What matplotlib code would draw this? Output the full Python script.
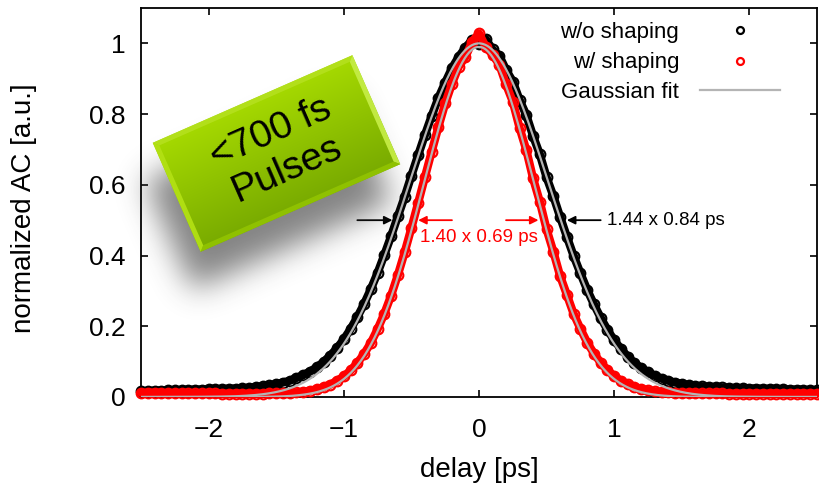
import numpy as np
import matplotlib
matplotlib.use("Agg")
import matplotlib.pyplot as plt
from matplotlib.path import Path
from matplotlib.patches import Polygon

plt.rcParams['font.family'] = ['Liberation Sans', 'DejaVu Sans']

# autocorrelation traces, 0.05 ps sampling
delay = np.round(np.arange(-2.5, 2.5001, 0.05), 2)

ac_without = [
    0.016, 0.017, 0.018, 0.018, 0.019, 0.019, 0.020, 0.020, 0.021, 0.021,
    0.022, 0.022, 0.023, 0.023, 0.024, 0.025, 0.026, 0.028, 0.030, 0.033,
    0.036, 0.041, 0.046, 0.054, 0.062, 0.072, 0.084, 0.099, 0.117, 0.138,
    0.163, 0.192, 0.226, 0.263, 0.305, 0.351, 0.402, 0.455, 0.511, 0.566,
    0.626, 0.684, 0.741, 0.795, 0.846, 0.889, 0.930, 0.962, 0.988, 1.010,
    0.998,
    1.012, 0.983, 0.965, 0.925, 0.892, 0.840, 0.797, 0.738, 0.686, 0.621,
    0.568, 0.509, 0.453, 0.399, 0.350, 0.303, 0.262, 0.224, 0.190, 0.160,
    0.136, 0.114, 0.096, 0.082, 0.070, 0.060, 0.052, 0.046, 0.041, 0.037,
    0.034, 0.032, 0.030, 0.029, 0.028, 0.027, 0.026, 0.025, 0.025, 0.024,
    0.024, 0.023, 0.023, 0.022, 0.022, 0.021, 0.021, 0.020, 0.020, 0.019,
]

ac_with = [
    0.012, 0.012, 0.012, 0.011, 0.011, 0.011, 0.011, 0.010, 0.010, 0.010,
    0.010, 0.010, 0.009, 0.009, 0.009, 0.009, 0.009, 0.009, 0.009, 0.010,
    0.010, 0.011, 0.012, 0.013, 0.015, 0.018, 0.022, 0.028, 0.035, 0.046,
    0.058, 0.075, 0.096, 0.122, 0.153, 0.192, 0.236, 0.287, 0.345, 0.409,
    0.478, 0.549, 0.622, 0.694, 0.764, 0.830, 0.886, 0.934, 0.962, 1.005,
    1.028,
    0.990, 0.968, 0.940, 0.884, 0.835, 0.761, 0.698, 0.618, 0.552, 0.474,
    0.411, 0.342, 0.289, 0.235, 0.193, 0.154, 0.123, 0.097, 0.076, 0.059,
    0.046, 0.036, 0.029, 0.023, 0.019, 0.016, 0.014, 0.013, 0.012, 0.011,
    0.011, 0.010, 0.010, 0.010, 0.010, 0.010, 0.009, 0.009, 0.009, 0.009,
    0.009, 0.009, 0.009, 0.009, 0.009, 0.009, 0.009, 0.009, 0.009, 0.009,
]

# gaussian fit results: deconvolution factor x pulse width, peak height
fit_without = (1.44, 0.84, 1.00)
fit_with = (1.40, 0.69, 0.99)

RED = '#ff0000'
GREY = '#b4b4b4'


def gauss(t, factor, width, amp):
    fwhm = factor * width
    return amp * np.exp(-4 * np.log(2) * t ** 2 / fwhm ** 2)


fig = plt.figure(figsize=(8.2, 4.93), dpi=100)
ax = fig.add_axes([141 / 820, 96 / 493, 676 / 820, 389 / 493])

# measured data: thick trace + open circles
for vals, col, z in [(ac_without, 'black', 2), (ac_with, RED, 3)]:
    ax.plot(delay, vals, '-', color=col, lw=6, solid_capstyle='round',
            zorder=z, clip_on=False)
    ax.plot(delay, vals, 'o', mfc='none', mec=col, ms=7, mew=1.5,
            zorder=z, clip_on=False)

t = np.linspace(-2.5, 2.5, 600)
ax.plot(t, gauss(t, *fit_without), color=GREY, lw=1.6, zorder=4)
ax.plot(t, gauss(t, *fit_with), color=GREY, lw=1.6, zorder=4)

ax.set_xlim(-2.5, 2.5)
ax.set_ylim(0, 1.1)
ax.set_xticks([-2, -1, 0, 1, 2])
ax.set_yticks([0, 0.2, 0.4, 0.6, 0.8, 1])
ax.set_yticklabels(['0', '0.2', '0.4', '0.6', '0.8', '1'])
ax.tick_params(direction='in', top=True, right=True, length=5, width=1.2,
               labelsize=19)
ax.tick_params(axis='x', pad=15)
ax.tick_params(axis='y', pad=11)
for s in ax.spines.values():
    s.set_linewidth(1.3)
ax.set_xlabel('delay [ps]', fontsize=20)
ax.set_ylabel('normalized AC [a.u.]', fontsize=20)
ax.xaxis.set_label_coords(0.5, -0.155)
ax.yaxis.set_label_coords(-0.154, 0.486)

# width markers at half maximum
arr_k = dict(arrowstyle='-|>', color='black', lw=1.3, mutation_scale=12,
             shrinkA=0, shrinkB=0)
arr_r = dict(arr_k, color=RED)
ax.annotate('', xy=(-0.64, 0.5), xytext=(-0.9, 0.5), arrowprops=arr_k, zorder=6)
ax.annotate('', xy=(0.65, 0.5), xytext=(0.9, 0.5), arrowprops=arr_k, zorder=6)
ax.annotate('', xy=(-0.45, 0.5), xytext=(-0.2, 0.5), arrowprops=arr_r, zorder=6)
ax.annotate('', xy=(0.44, 0.5), xytext=(0.2, 0.5), arrowprops=arr_r, zorder=6)
ax.text(0.95, 0.5, '%.2f x %.2f ps' % fit_without[:2], fontsize=13.5,
        va='center', ha='left', zorder=6)
ax.text(0.0, 0.452, '%.2f x %.2f ps' % fit_with[:2], fontsize=13.5,
        color=RED, va='center', ha='center', zorder=6)

# key, gnuplot style: right aligned labels with samples on the right
kw = dict(transform=ax.transAxes, ha='right', va='baseline', fontsize=16)
ax.text(0.796, 0.924, 'w/o shaping', **kw)
ax.text(0.796, 0.846, 'w/ shaping', **kw)
ax.text(0.796, 0.769, 'Gaussian fit', **kw)
ax.plot([0.886], [0.943], 'o', mfc='none', mec='black', ms=5, mew=1.6,
        transform=ax.transAxes)
ax.plot([0.886], [0.865], 'o', mfc='none', mec=RED, ms=5, mew=1.6,
        transform=ax.transAxes)
ax.plot([0.827, 0.945], [0.788, 0.788], color=GREY, lw=1.6,
        transform=ax.transAxes)

# tilted green badge drawn on a pixel-space overlay
ov = fig.add_axes([0, 0, 1, 1], zorder=5)
ov.set_xlim(0, 820)
ov.set_ylim(0, 493)
ov.axis('off')
ov.patch.set_visible(False)

ang = np.deg2rad(23.7)
u = np.array([np.cos(ang), np.sin(ang)])
v = np.array([-np.sin(ang), np.cos(ang)])
c = np.array([276.5, 339.5])
hw, hh = 109, 59.5


def rect(center, a, b):
    return np.array([center - a * u + b * v, center + a * u + b * v,
                     center + a * u - b * v, center - a * u - b * v])


corners = rect(c, hw, hh)

# soft drop shadow
yy, xx = np.mgrid[0:493, 0:820]
pts = np.column_stack([xx.ravel() + 0.5, yy.ravel() + 0.5])
sh = rect(c + np.array([-8, -38]), hw, hh)
mask = Path(sh).contains_points(pts).reshape(493, 820).astype(float)
k = np.arange(-45, 46)
ker = np.exp(-k ** 2 / (2 * 15.0 ** 2))
ker /= ker.sum()
mask = np.apply_along_axis(lambda r: np.convolve(r, ker, mode='same'), 1, mask)
mask = np.apply_along_axis(lambda r: np.convolve(r, ker, mode='same'), 0, mask)
shadow = np.zeros((493, 820, 4))
shadow[..., :3] = 0.22
shadow[..., 3] = 0.62 * mask
ov.imshow(shadow, extent=(0, 820, 0, 493), origin='lower', zorder=1,
          interpolation='bilinear')

# face gradient, light at the top edge
proj = ((pts - c) @ v).reshape(493, 820)
f = np.clip((hh - proj) / (2 * hh), 0, 1)
top = np.array([166, 218, 0]) / 255
bot = np.array([120, 170, 0]) / 255
face = np.ones((493, 820, 4))
face[..., :3] = top + (bot - top) * f[..., None]
im = ov.imshow(face, extent=(0, 820, 0, 493), origin='lower', zorder=2)
clip = Polygon(corners, closed=True, transform=ov.transData, fc='none', ec='none')
ov.add_patch(clip)
im.set_clip_path(clip)

# bevel strips
inner = rect(c, hw - 5, hh - 5)
bevel = [(0, 1, '#b4e01e', 0.9), (1, 2, '#c4ec44', 0.95),
         (2, 3, '#92c400', 0.9), (3, 0, '#b2e014', 0.95)]
for i, j, col, a in bevel:
    quad = np.array([corners[i], corners[j], inner[j], inner[i]])
    ov.add_patch(Polygon(quad, closed=True, fc=col, ec='none', alpha=a, zorder=3))

ov.text(c[0] + 2, c[1] + 2, '<700 fs\nPulses', fontsize=28, rotation=23.7,
        rotation_mode='anchor', ha='center', va='center', linespacing=1.15,
        zorder=4)

fig.savefig('out.png', dpi=100)
